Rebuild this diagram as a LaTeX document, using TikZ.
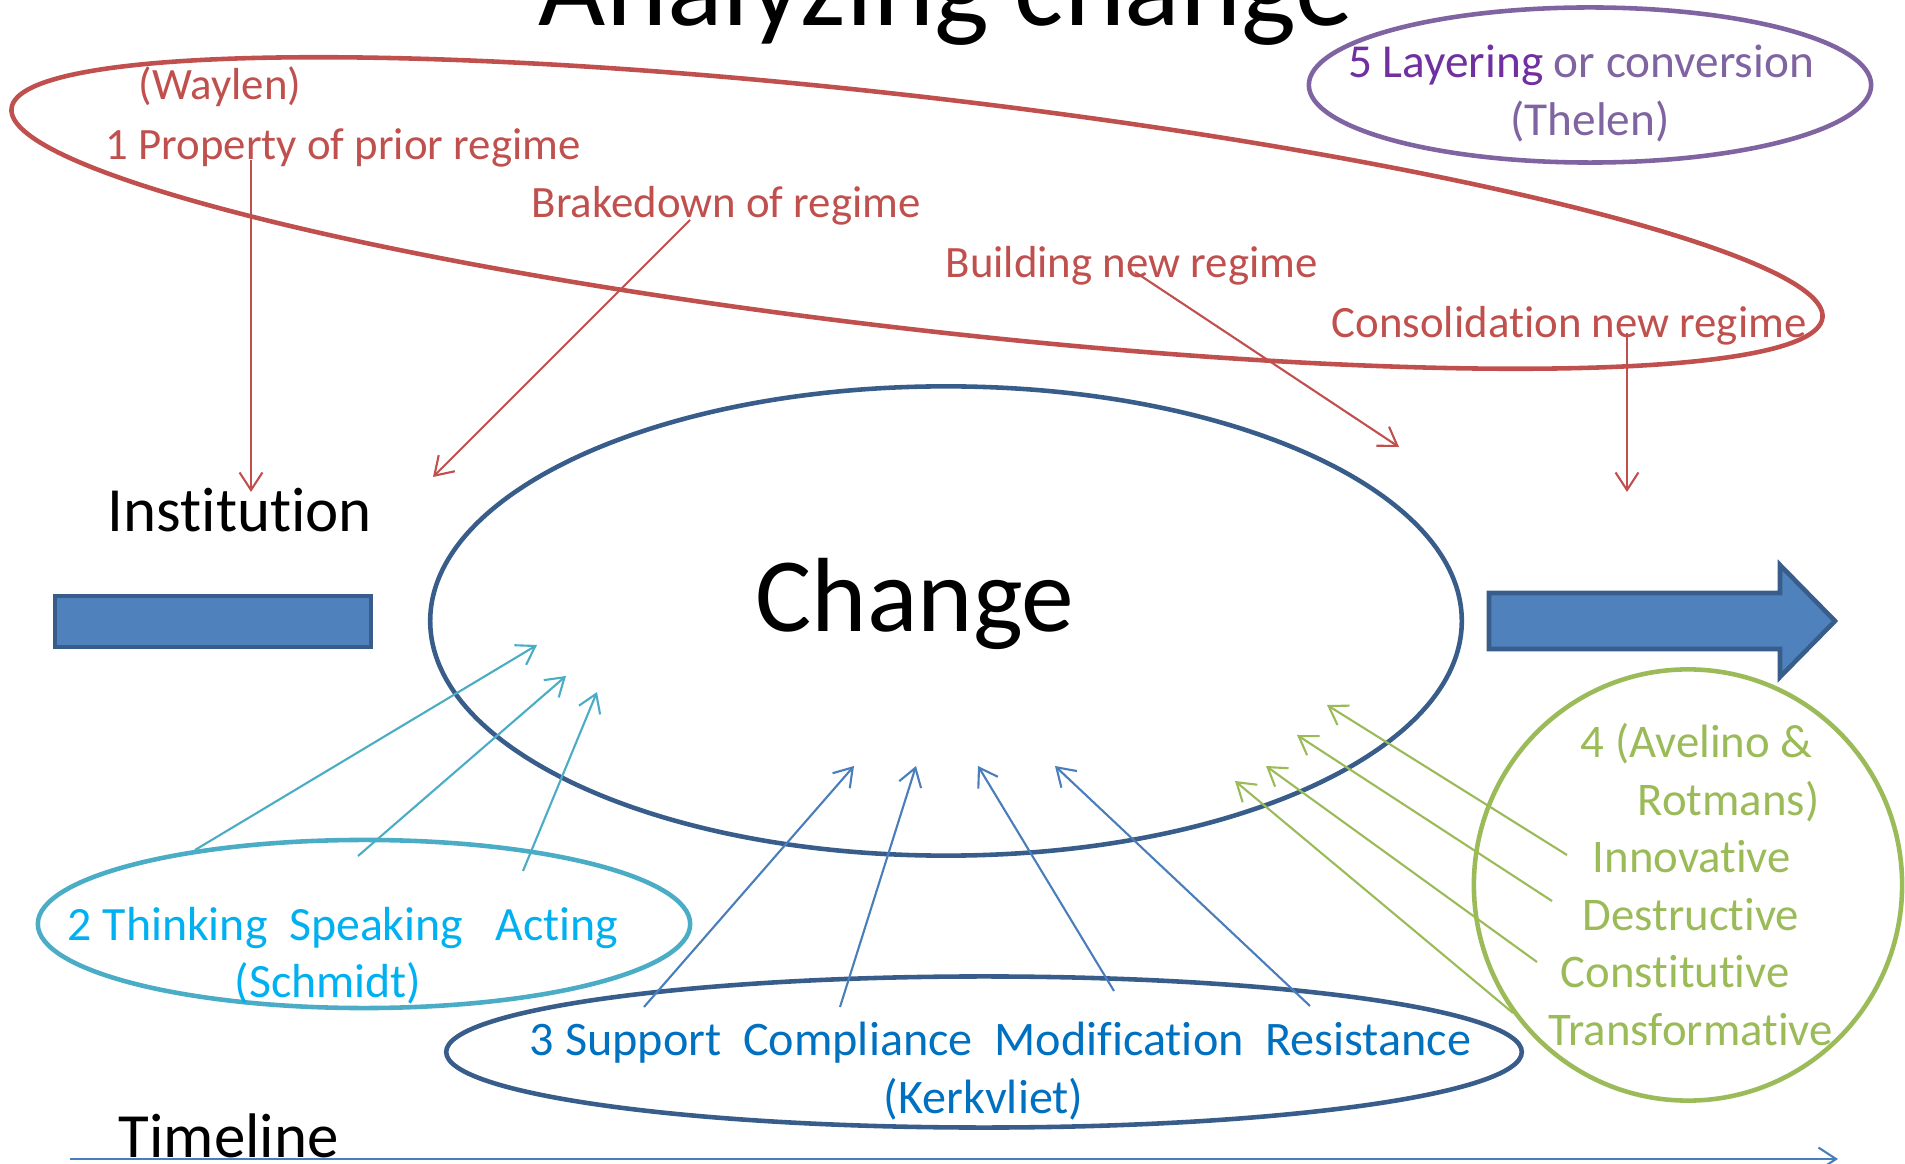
\documentclass[tikz,border=0pt]{standalone}
\usepackage{fontspec}
\setmainfont{Carlito}[Ligatures={NoCommon}]
\usetikzlibrary{arrows.meta,shapes.geometric}
\definecolor{regimered}{HTML}{C0504D}
\definecolor{outlineblue}{HTML}{385D8A}
\definecolor{fillblue}{HTML}{4F81BD}
\definecolor{lineblue}{HTML}{4A7EBB}
\definecolor{schmidtring}{HTML}{4BACC6}
\definecolor{schmidtcyan}{HTML}{00B0F0}
\definecolor{kerkblue}{HTML}{0070C0}
\definecolor{rotgreen}{HTML}{9BBB59}
\definecolor{thelenpurple}{HTML}{8064A2}
\definecolor{layerpurple}{HTML}{7030A0}
\tikzset{
    ring/.style={ellipse,draw=#1,line width=1.3pt,inner sep=0pt,outer sep=0pt},
    block/.style={draw=outlineblue,fill=fillblue,line width=1.3pt},
    arr/.style={-{Straight Barb[length=5pt,width=6.5pt]},line width=0.6pt},
    lbl/.style={inner sep=0pt,anchor=base west},
    regime text/.style={text=regimered,font=\fontsize{12.75pt}{15pt}\selectfont},
    thelen text/.style={text=thelenpurple,font=\fontsize{13.45pt}{16pt}\selectfont},
    schmidt text/.style={text=schmidtcyan,font=\fontsize{13.6pt}{16pt}\selectfont},
    kerk text/.style={text=kerkblue,font=\fontsize{13.7pt}{16pt}\selectfont},
    rot text/.style={text=rotgreen,font=\fontsize{13.3pt}{16pt}\selectfont},
    big text/.style={font=\fontsize{17.9pt}{21pt}\selectfont},
}

\begin{document}
\begin{tikzpicture}[x=0.01cm,y=-0.01cm]
        \useasboundingbox (0,0) rectangle (1905,1164);
        \clip (0,0) rectangle (1905,1164);
        \node[lbl,anchor=base,font=\fontsize{33pt}{36pt}\selectfont] (title) at (946,26) {Analyzing change};

        % the five framings
        \node[ring=regimered,minimum width=18.22cm,minimum height=2.32cm,rotate=-6.6] (waylen) at (917,213) {};
        \node[ring=thelenpurple,minimum width=5.62cm,minimum height=1.55cm] (thelenring) at (1590,85) {};
        \node[ring=outlineblue,minimum width=10.31cm,minimum height=4.69cm] (change) at (946,621) {};
        \node[ring=schmidtring,minimum width=6.52cm,minimum height=1.68cm] (schmidtring) at (364,924) {};
        \node[ring=outlineblue,minimum width=10.75cm,minimum height=1.51cm] (kerkring) at (984,1052) {};
        \node[ring=rotgreen,minimum width=4.28cm,minimum height=4.31cm] (rotring) at (1688,885) {};

        \draw[block] (55,596) rectangle (371,647);
        \draw[block] (1489,593) -- (1780,593) -- (1780,565) -- (1835,621)
            -- (1780,677) -- (1780,649) -- (1489,649) -- cycle;

        \node[lbl,anchor=base,font=\fontsize{30pt}{34pt}\selectfont] (chg) at (915,632) {Change};
        \node[lbl,big text] (inst) at (107,532) {Institution};
        \node[lbl,big text] (time) at (118,1157) {Timeline};

        \node[lbl,regime text] (waylenlbl) at (138,100) {(Waylen)};
        \node[lbl,regime text] (prior) at (105,160) {1 Property of prior regime};
        \node[lbl,regime text] (brk) at (531,218) {Brakedown of regime};
        \node[lbl,regime text] (bld) at (945,278) {Building new regime};
        \node[lbl,regime text] (cons) at (1331,338) {Consolidation new regime};

        \node[lbl,anchor=base,thelen text] (layer) at (1581,78) {\textcolor{layerpurple}{5 Layering} or conversion};
        \node[lbl,anchor=base,thelen text] (thelen) at (1590,136) {(Thelen)};

        \node[lbl,schmidt text] (tsa) at (67,940) {2 Thinking\ \ Speaking\ \ \ Acting};
        \node[lbl,schmidt text] (schmidt) at (234,998) {(Schmidt)};

        \node[lbl,kerk text] (scmr) at (529,1055) {3 Support\ \ Compliance\ \ Modification\ \ Resistance};
        \node[lbl,kerk text] (kerk) at (883,1113) {(Kerkvliet)};

        \node[lbl,rot text] (avel) at (1580,758) {4 (Avelino \&};
        \node[lbl,rot text] (rotm) at (1637,815) {Rotmans)};
        \node[lbl,rot text] (innov) at (1592,873) {Innovative};
        \node[lbl,rot text] (destr) at (1582,930) {Destructive};
        \node[lbl,rot text] (const) at (1560,988) {Constitutive};
        \node[lbl,rot text] (trans) at (1548,1045) {Transformative};

        % arrow ends
        \coordinate (r1) at (251,160);  \coordinate (r1e) at (251,492);
        \coordinate (r2) at (690,220);  \coordinate (r2e) at (433,477);
        \coordinate (r3) at (1135,272); \coordinate (r3e) at (1399,447);
        \coordinate (r4) at (1627,333); \coordinate (r4e) at (1627,492);
        \coordinate (c1) at (195,850);  \coordinate (c1e) at (537,645);
        \coordinate (c2) at (358,856);  \coordinate (c2e) at (566,676);
        \coordinate (c3) at (523,871);  \coordinate (c3e) at (597,692);
        \coordinate (b1) at (644,1007); \coordinate (b1e) at (854,766);
        \coordinate (b2) at (840,1007); \coordinate (b2e) at (916,766);
        \coordinate (b3) at (1114,991); \coordinate (b3e) at (978,766);
        \coordinate (b4) at (1310,1006); \coordinate (b4e) at (1055,766);
        \coordinate (g1) at (1567,855); \coordinate (g1e) at (1327,705);
        \coordinate (g2) at (1552,901); \coordinate (g2e) at (1297,735);
        \coordinate (g3) at (1537,962); \coordinate (g3e) at (1266,766);
        \coordinate (g4) at (1513,1013); \coordinate (g4e) at (1235,781);
        \coordinate (t0) at (70,1159);  \coordinate (t1) at (1838,1159);

        \draw[arr,regimered] (r1) -- (r1e);
        \draw[arr,regimered] (r2) -- (r2e);
        \draw[arr,regimered] (r3) -- (r3e);
        \draw[arr,regimered] (r4) -- (r4e);
        \draw[arr,schmidtring] (c1) -- (c1e);
        \draw[arr,schmidtring] (c2) -- (c2e);
        \draw[arr,schmidtring] (c3) -- (c3e);
        \draw[arr,lineblue] (b1) -- (b1e);
        \draw[arr,lineblue] (b2) -- (b2e);
        \draw[arr,lineblue] (b3) -- (b3e);
        \draw[arr,lineblue] (b4) -- (b4e);
        \draw[arr,rotgreen] (g1) -- (g1e);
        \draw[arr,rotgreen] (g2) -- (g2e);
        \draw[arr,rotgreen] (g3) -- (g3e);
        \draw[arr,rotgreen] (g4) -- (g4e);
        \draw[arr,lineblue] (t0) -- (t1);
\end{tikzpicture}
\end{document}
